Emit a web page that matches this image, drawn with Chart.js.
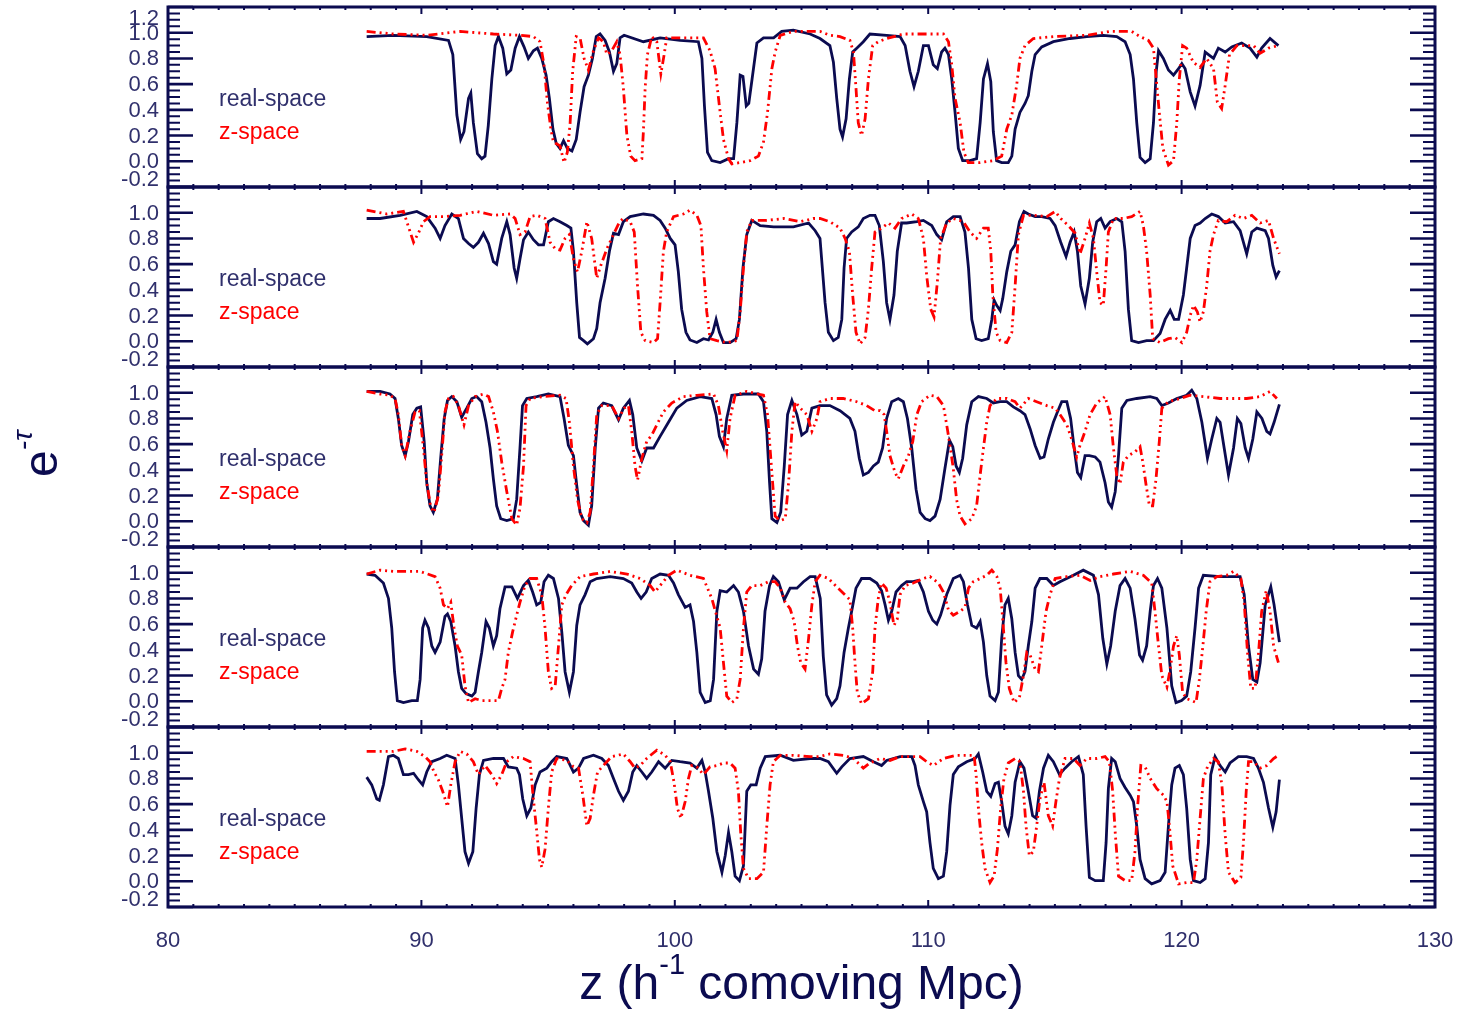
<!DOCTYPE html>
<html>
<head>
<meta charset="utf-8">
<script src="https://cdn.jsdelivr.net/npm/chart.js@4.4.1/dist/chart.umd.min.js"></script>
<style>
  html, body { margin: 0; padding: 0; background: #ffffff; }
  #chart-container { width: 1463px; height: 1011px; }
</style>
</head>
<body>
<div id="chart-container"><canvas id="spectra" width="1463" height="1011"></canvas></div>
<script>
// Axis ranges and labels
const xRange = [80, 130];
const xTickLabels = [80, 90, 100, 110, 120, 130];
const yTickValues = [0.0, 0.2, 0.4, 0.6, 0.8, 1.0];
const seriesNames = ['real-space', 'z-space'];

// Panel 1 (top)
const realSpace1 = [[87.84,0.97],[88.89,0.98],[90.21,0.97],[91.07,0.94],[91.24,0.83],[91.40,0.36],[91.55,0.17],[91.68,0.23],[91.86,0.49],[91.95,0.53],[92.05,0.30],[92.21,0.06],[92.38,0.02],[92.51,0.04],[92.64,0.28],[92.78,0.64],[92.91,0.90],[93.04,0.97],[93.21,0.88],[93.37,0.68],[93.53,0.71],[93.70,0.88],[93.87,0.97],[94.05,0.89],[94.22,0.80],[94.42,0.86],[94.58,0.88],[94.75,0.80],[94.92,0.67],[95.05,0.49],[95.19,0.25],[95.32,0.14],[95.47,0.10],[95.61,0.16],[95.76,0.10],[95.94,0.08],[96.11,0.17],[96.26,0.38],[96.42,0.58],[96.59,0.67],[96.75,0.80],[96.90,0.97],[97.05,0.99],[97.25,0.94],[97.42,0.85],[97.58,0.70],[97.71,0.76],[97.84,0.96],[98.00,0.98],[98.76,0.93],[99.42,0.96],[100.21,0.94],[100.93,0.93],[101.07,0.80],[101.17,0.43],[101.29,0.07],[101.46,0.005],[101.79,-0.01],[102.12,0.02],[102.32,0.02],[102.45,0.30],[102.58,0.67],[102.69,0.66],[102.82,0.43],[102.92,0.45],[103.05,0.64],[103.24,0.92],[103.50,0.96],[103.90,0.96],[104.22,1.01],[104.68,1.02],[105.34,0.99],[105.73,0.955],[106.12,0.90],[106.26,0.77],[106.39,0.49],[106.52,0.25],[106.62,0.19],[106.76,0.33],[106.89,0.64],[107.02,0.85],[107.18,0.88],[107.44,0.93],[107.70,0.99],[108.36,0.98],[108.89,0.97],[109.09,0.90],[109.28,0.70],[109.44,0.58],[109.61,0.70],[109.81,0.90],[110.01,0.90],[110.20,0.75],[110.36,0.72],[110.53,0.85],[110.66,0.88],[110.80,0.83],[110.93,0.64],[111.06,0.38],[111.19,0.10],[111.36,0.005],[111.65,0.005],[111.91,0.02],[112.05,0.30],[112.18,0.64],[112.34,0.76],[112.47,0.62],[112.57,0.23],[112.70,0.005],[112.90,-0.01],[113.16,-0.01],[113.30,0.04],[113.43,0.25],[113.62,0.38],[113.82,0.45],[113.95,0.51],[114.09,0.70],[114.22,0.83],[114.48,0.89],[114.94,0.93],[115.60,0.955],[116.26,0.97],[116.91,0.98],[117.44,0.97],[117.77,0.93],[117.97,0.83],[118.10,0.64],[118.23,0.30],[118.36,0.03],[118.56,-0.01],[118.76,0.02],[118.89,0.30],[119.00,0.70],[119.09,0.86],[119.28,0.80],[119.48,0.71],[119.68,0.67],[119.88,0.72],[120.01,0.76],[120.14,0.72],[120.34,0.54],[120.53,0.43],[120.73,0.59],[120.93,0.85],[121.06,0.83],[121.26,0.80],[121.45,0.88],[121.72,0.85],[121.98,0.89],[122.37,0.92],[122.70,0.88],[122.97,0.81],[123.16,0.88],[123.49,0.955],[123.82,0.90]];
const zSpace1 = [[87.84,1.01],[88.89,0.99],[90.21,0.98],[91.53,1.01],[92.84,0.99],[93.89,0.98],[94.42,0.97],[94.68,0.93],[94.84,0.75],[94.97,0.46],[95.11,0.25],[95.21,0.15],[95.47,0.12],[95.63,-0.01],[95.76,0.07],[95.87,0.30],[95.97,0.70],[96.11,0.97],[96.26,0.96],[96.42,0.80],[96.59,0.71],[96.79,0.86],[96.99,0.96],[97.18,0.93],[97.32,0.83],[97.51,0.86],[97.71,0.93],[97.84,0.83],[97.97,0.57],[98.11,0.20],[98.26,0.04],[98.43,0.005],[98.70,0.02],[98.76,0.23],[98.83,0.57],[98.92,0.83],[99.09,0.97],[99.29,0.93],[99.45,0.68],[99.58,0.83],[99.68,0.96],[100.08,0.96],[100.74,0.96],[101.13,0.96],[101.39,0.86],[101.59,0.72],[101.76,0.43],[101.92,0.17],[102.12,0.02],[102.25,-0.02],[102.58,-0.01],[102.97,0.005],[103.30,0.04],[103.50,0.15],[103.66,0.38],[103.83,0.72],[103.96,0.85],[104.16,0.98],[104.68,1.01],[105.34,1.01],[105.73,1.01],[106.12,0.98],[106.52,0.97],[106.91,0.94],[107.05,0.85],[107.15,0.57],[107.24,0.30],[107.37,0.20],[107.51,0.33],[107.64,0.64],[107.81,0.90],[108.03,0.93],[108.36,0.955],[109.02,0.99],[109.68,0.99],[110.60,0.99],[110.80,0.93],[110.93,0.75],[111.06,0.49],[111.26,0.30],[111.41,0.07],[111.58,-0.01],[112.05,-0.01],[112.57,0.005],[112.90,0.04],[113.10,0.25],[113.30,0.36],[113.49,0.59],[113.62,0.80],[113.82,0.90],[114.15,0.955],[114.94,0.97],[116.26,0.98],[117.18,1.01],[118.03,1.01],[118.36,0.97],[118.69,0.94],[118.89,0.88],[119.00,0.64],[119.12,0.38],[119.26,0.10],[119.48,-0.03],[119.68,0.005],[119.81,0.30],[119.91,0.64],[120.04,0.90],[120.20,0.88],[120.46,0.77],[120.73,0.73],[120.99,0.80],[121.26,0.72],[121.41,0.46],[121.58,0.41],[121.72,0.59],[121.89,0.83],[122.18,0.90],[122.57,0.90],[122.84,0.90],[123.10,0.84],[123.43,0.88],[123.82,0.90]];

// Panel 2
const realSpace2 = [[87.84,0.955],[88.37,0.955],[89.16,0.98],[89.82,1.01],[90.21,0.97],[90.54,0.88],[90.74,0.80],[90.93,0.90],[91.20,0.99],[91.46,0.955],[91.66,0.80],[91.86,0.76],[92.05,0.73],[92.25,0.77],[92.45,0.84],[92.65,0.76],[92.84,0.62],[92.97,0.60],[93.17,0.80],[93.37,0.93],[93.50,0.83],[93.66,0.57],[93.76,0.49],[93.89,0.64],[94.03,0.79],[94.22,0.85],[94.42,0.79],[94.62,0.75],[94.82,0.75],[95.01,0.93],[95.21,0.955],[95.47,0.93],[95.74,0.90],[95.90,0.88],[96.00,0.70],[96.13,0.30],[96.24,0.03],[96.40,0.005],[96.55,-0.02],[96.79,0.02],[96.92,0.10],[97.05,0.30],[97.25,0.49],[97.42,0.70],[97.58,0.84],[97.78,0.83],[97.97,0.93],[98.24,0.97],[98.76,0.99],[99.16,0.98],[99.42,0.94],[99.62,0.88],[99.82,0.80],[100.01,0.75],[100.14,0.54],[100.27,0.25],[100.44,0.07],[100.60,0.01],[100.87,-0.01],[101.13,0.02],[101.33,0.01],[101.50,0.07],[101.63,0.17],[101.76,0.07],[101.92,-0.01],[102.18,-0.01],[102.42,0.02],[102.55,0.17],[102.69,0.57],[102.84,0.83],[103.04,0.94],[103.37,0.90],[103.90,0.89],[104.68,0.89],[105.28,0.92],[105.54,0.86],[105.73,0.80],[105.93,0.30],[106.06,0.07],[106.26,0.005],[106.45,0.03],[106.59,0.17],[106.68,0.57],[106.78,0.80],[106.98,0.85],[107.24,0.89],[107.44,0.955],[107.70,0.98],[107.90,0.98],[108.07,0.90],[108.23,0.62],[108.36,0.30],[108.49,0.17],[108.65,0.36],[108.78,0.70],[108.95,0.92],[109.15,0.92],[109.55,0.93],[109.81,0.94],[110.14,0.90],[110.34,0.83],[110.53,0.79],[110.73,0.93],[110.99,0.97],[111.26,0.97],[111.45,0.85],[111.59,0.57],[111.72,0.17],[111.89,0.02],[112.11,0.005],[112.37,0.02],[112.51,0.17],[112.60,0.32],[112.70,0.28],[112.84,0.24],[112.94,0.33],[113.10,0.54],[113.26,0.70],[113.43,0.75],[113.60,0.93],[113.78,1.01],[113.95,0.99],[114.22,0.97],[114.48,0.97],[114.81,0.955],[115.01,0.90],[115.23,0.77],[115.44,0.66],[115.60,0.77],[115.76,0.85],[115.89,0.70],[116.02,0.43],[116.19,0.29],[116.36,0.49],[116.49,0.77],[116.65,0.93],[116.81,0.955],[116.98,0.88],[117.18,0.93],[117.44,0.955],[117.64,0.93],[117.77,0.70],[117.90,0.25],[118.03,0.005],[118.30,-0.01],[118.62,0.005],[118.89,0.005],[119.15,0.06],[119.35,0.17],[119.55,0.24],[119.71,0.17],[119.88,0.17],[120.07,0.36],[120.20,0.57],[120.34,0.80],[120.53,0.90],[120.73,0.92],[120.93,0.955],[121.19,0.99],[121.45,0.97],[121.72,0.92],[122.05,0.93],[122.31,0.86],[122.57,0.68],[122.77,0.85],[122.97,0.88],[123.30,0.86],[123.43,0.80],[123.60,0.59],[123.73,0.50],[123.86,0.55]];
const zSpace2 = [[87.84,1.02],[88.63,0.99],[89.29,1.01],[89.49,0.89],[89.69,0.77],[89.88,0.84],[90.08,0.93],[90.34,0.97],[90.87,0.97],[91.53,0.98],[92.18,1.01],[92.84,0.98],[93.50,0.99],[93.70,0.955],[93.89,0.83],[94.09,0.85],[94.29,0.97],[94.55,0.98],[94.88,0.955],[95.08,0.77],[95.28,0.72],[95.47,0.71],[95.67,0.80],[95.84,0.83],[96.00,0.64],[96.16,0.54],[96.33,0.70],[96.53,0.93],[96.72,0.80],[96.92,0.49],[97.08,0.59],[97.32,0.72],[97.58,0.83],[97.82,0.93],[97.97,0.955],[98.24,0.93],[98.40,0.85],[98.53,0.43],[98.66,0.07],[98.83,0.005],[99.16,-0.01],[99.32,0.02],[99.42,0.30],[99.55,0.70],[99.68,0.85],[99.95,0.97],[100.34,0.99],[100.60,1.02],[100.87,0.98],[101.03,0.90],[101.13,0.57],[101.26,0.23],[101.39,0.02],[101.66,0.005],[102.05,-0.01],[102.45,0.005],[102.58,0.23],[102.71,0.57],[102.84,0.85],[103.04,0.94],[103.63,0.94],[104.29,0.955],[104.95,0.93],[105.47,0.955],[105.73,0.955],[106.12,0.93],[106.52,0.88],[106.72,0.80],[106.89,0.70],[107.02,0.36],[107.15,0.07],[107.31,-0.02],[107.51,0.03],[107.64,0.25],[107.77,0.57],[107.90,0.85],[108.16,0.88],[108.43,0.92],[108.69,0.88],[108.95,0.955],[109.35,0.99],[109.61,0.955],[109.81,0.80],[109.94,0.51],[110.10,0.25],[110.23,0.19],[110.36,0.46],[110.49,0.80],[110.73,0.92],[110.99,0.955],[111.39,0.93],[111.65,0.85],[111.91,0.80],[112.18,0.88],[112.37,0.88],[112.47,0.70],[112.55,0.36],[112.68,0.07],[112.84,0.005],[113.10,-0.01],[113.30,0.07],[113.43,0.43],[113.56,0.83],[113.76,0.98],[114.15,0.98],[114.68,0.97],[115.01,1.01],[115.23,0.955],[115.53,0.90],[115.80,0.84],[115.99,0.68],[116.19,0.80],[116.36,0.92],[116.52,0.80],[116.65,0.54],[116.78,0.30],[116.91,0.28],[117.02,0.57],[117.11,0.85],[117.31,0.955],[117.70,0.955],[118.03,0.97],[118.36,1.01],[118.49,0.90],[118.62,0.70],[118.76,0.36],[118.86,0.02],[119.15,-0.01],[119.48,0.02],[119.74,0.03],[120.01,-0.01],[120.20,0.07],[120.34,0.20],[120.47,0.28],[120.62,0.23],[120.73,0.15],[120.86,0.23],[120.99,0.43],[121.12,0.70],[121.26,0.83],[121.45,0.94],[121.78,0.93],[122.11,0.98],[122.44,0.955],[122.77,0.98],[123.10,0.92],[123.43,0.94],[123.63,0.80],[123.86,0.68]];

// Panel 3
const realSpace3 = [[87.84,1.01],[88.37,1.01],[88.76,0.99],[88.96,0.955],[89.09,0.80],[89.22,0.59],[89.36,0.51],[89.49,0.62],[89.66,0.83],[89.82,0.88],[89.97,0.89],[90.11,0.62],[90.21,0.30],[90.34,0.12],[90.47,0.07],[90.63,0.17],[90.76,0.49],[90.90,0.80],[91.03,0.94],[91.20,0.97],[91.40,0.93],[91.59,0.81],[91.79,0.88],[91.99,0.955],[92.18,0.97],[92.38,0.93],[92.55,0.77],[92.71,0.57],[92.84,0.33],[92.97,0.12],[93.13,0.02],[93.37,0.005],[93.63,0.02],[93.76,0.17],[93.89,0.57],[93.99,0.90],[94.16,0.955],[94.55,0.97],[95.01,0.99],[95.47,0.97],[95.63,0.80],[95.80,0.59],[96.00,0.51],[96.13,0.28],[96.26,0.07],[96.40,0.005],[96.59,-0.03],[96.72,0.12],[96.86,0.57],[96.99,0.88],[97.18,0.92],[97.51,0.90],[97.78,0.79],[97.97,0.88],[98.21,0.94],[98.34,0.83],[98.50,0.57],[98.70,0.47],[98.89,0.57],[99.16,0.57],[99.42,0.66],[99.75,0.77],[100.08,0.88],[100.47,0.94],[101.00,0.97],[101.46,0.955],[101.63,0.83],[101.76,0.66],[101.92,0.58],[102.05,0.80],[102.25,0.98],[102.71,0.99],[103.30,0.99],[103.50,0.93],[103.63,0.70],[103.74,0.30],[103.83,0.02],[104.03,-0.01],[104.18,0.07],[104.32,0.43],[104.45,0.83],[104.62,0.94],[104.82,0.83],[105.01,0.67],[105.21,0.70],[105.41,0.88],[105.73,0.90],[106.12,0.90],[106.52,0.86],[106.91,0.80],[107.11,0.70],[107.28,0.49],[107.44,0.36],[107.64,0.38],[107.84,0.43],[108.03,0.46],[108.20,0.57],[108.36,0.80],[108.56,0.93],[108.82,0.955],[109.02,0.93],[109.18,0.80],[109.35,0.57],[109.52,0.25],[109.68,0.07],[109.88,0.02],[110.07,0.005],[110.27,0.04],[110.47,0.17],[110.66,0.41],[110.84,0.63],[110.97,0.58],[111.10,0.43],[111.23,0.38],[111.36,0.49],[111.52,0.75],[111.72,0.93],[111.98,0.97],[112.31,0.955],[112.57,0.92],[112.84,0.93],[113.10,0.93],[113.36,0.89],[113.62,0.86],[113.82,0.83],[114.02,0.72],[114.22,0.59],[114.42,0.49],[114.57,0.50],[114.74,0.64],[114.94,0.77],[115.10,0.85],[115.27,0.93],[115.47,0.93],[115.62,0.80],[115.76,0.57],[115.89,0.38],[116.02,0.34],[116.19,0.51],[116.36,0.51],[116.59,0.50],[116.78,0.46],[116.98,0.30],[117.11,0.15],[117.24,0.11],[117.38,0.23],[117.51,0.51],[117.64,0.88],[117.84,0.94],[118.23,0.955],[118.76,0.97],[119.02,0.955],[119.22,0.90],[119.48,0.92],[119.81,0.955],[120.20,0.98],[120.40,1.02],[120.60,0.955],[120.80,0.77],[121.02,0.49],[121.19,0.64],[121.39,0.80],[121.52,0.77],[121.68,0.57],[121.85,0.36],[122.05,0.57],[122.20,0.80],[122.34,0.76],[122.51,0.57],[122.64,0.49],[122.81,0.64],[122.97,0.85],[123.17,0.80],[123.36,0.70],[123.49,0.68],[123.65,0.77],[123.86,0.91]];
const zSpace3 = [[87.84,1.01],[88.37,0.99],[88.76,0.98],[88.96,0.955],[89.09,0.83],[89.22,0.59],[89.36,0.51],[89.55,0.70],[89.75,0.85],[89.92,0.86],[90.08,0.57],[90.21,0.30],[90.37,0.11],[90.50,0.07],[90.67,0.20],[90.80,0.51],[90.93,0.85],[91.07,0.955],[91.26,0.97],[91.46,0.90],[91.68,0.75],[91.86,0.90],[92.12,0.97],[92.45,0.99],[92.65,0.97],[92.84,0.85],[93.00,0.70],[93.17,0.46],[93.37,0.23],[93.57,0.02],[93.76,-0.03],[93.89,0.10],[94.03,0.43],[94.13,0.90],[94.29,0.955],[94.82,0.97],[95.47,0.98],[95.71,0.955],[95.84,0.77],[96.00,0.43],[96.16,0.17],[96.33,0.02],[96.53,-0.01],[96.66,0.07],[96.79,0.43],[96.92,0.83],[97.12,0.90],[97.51,0.90],[97.78,0.80],[98.00,0.88],[98.17,0.90],[98.30,0.70],[98.43,0.43],[98.53,0.32],[98.70,0.49],[98.89,0.62],[99.09,0.67],[99.29,0.75],[99.55,0.85],[99.88,0.92],[100.34,0.97],[100.87,0.98],[101.53,0.99],[101.72,0.90],[101.89,0.70],[102.05,0.55],[102.18,0.80],[102.38,0.98],[102.84,1.01],[103.50,0.98],[103.66,0.83],[103.83,0.38],[103.96,0.04],[104.16,0.005],[104.36,0.02],[104.49,0.30],[104.62,0.70],[104.75,0.93],[104.95,0.88],[105.21,0.83],[105.41,0.70],[105.61,0.80],[105.73,0.93],[106.12,0.955],[106.65,0.955],[107.18,0.93],[107.57,0.90],[107.90,0.86],[108.10,0.86],[108.26,0.83],[108.36,0.70],[108.49,0.51],[108.69,0.38],[108.82,0.33],[109.02,0.43],[109.22,0.51],[109.39,0.62],[109.55,0.83],[109.74,0.93],[110.07,0.98],[110.34,0.97],[110.60,0.90],[110.73,0.75],[110.86,0.59],[110.99,0.41],[111.12,0.17],[111.26,0.04],[111.45,-0.02],[111.72,0.02],[111.91,0.12],[112.05,0.36],[112.18,0.57],[112.31,0.77],[112.44,0.90],[112.71,0.955],[113.10,0.955],[113.43,0.93],[113.62,0.88],[113.95,0.955],[114.28,0.93],[114.68,0.90],[115.01,0.88],[115.20,0.83],[115.47,0.75],[115.66,0.64],[115.86,0.50],[115.99,0.59],[116.19,0.70],[116.39,0.83],[116.65,0.92],[116.98,0.97],[117.18,0.83],[117.31,0.57],[117.44,0.36],[117.57,0.29],[117.70,0.46],[117.90,0.51],[118.16,0.54],[118.36,0.58],[118.47,0.46],[118.60,0.28],[118.73,0.12],[118.86,0.12],[118.99,0.33],[119.12,0.62],[119.22,0.88],[119.48,0.93],[119.94,0.955],[120.34,0.98],[120.86,0.97],[121.52,0.955],[122.05,0.955],[122.57,0.955],[123.10,0.97],[123.49,1.01],[123.76,0.955]];

// Panel 4
const realSpace4 = [[87.84,0.99],[88.17,0.98],[88.50,0.92],[88.70,0.80],[88.83,0.57],[88.94,0.23],[89.05,0.005],[89.29,-0.01],[89.62,0.005],[89.84,0.005],[89.95,0.17],[90.05,0.57],[90.14,0.63],[90.28,0.57],[90.41,0.43],[90.54,0.38],[90.74,0.46],[90.93,0.66],[91.03,0.68],[91.16,0.62],[91.33,0.43],[91.46,0.23],[91.59,0.10],[91.76,0.06],[91.99,0.04],[92.12,0.07],[92.25,0.23],[92.38,0.38],[92.55,0.62],[92.68,0.57],[92.84,0.43],[92.97,0.51],[93.10,0.72],[93.30,0.89],[93.57,0.89],[93.79,0.80],[94.03,0.90],[94.22,0.94],[94.39,0.85],[94.55,0.75],[94.71,0.77],[94.84,0.93],[95.01,0.98],[95.21,0.955],[95.41,0.80],[95.54,0.54],[95.67,0.23],[95.84,0.07],[96.00,0.23],[96.13,0.59],[96.26,0.75],[96.46,0.83],[96.66,0.93],[96.92,0.955],[97.45,0.97],[97.97,0.955],[98.30,0.92],[98.50,0.85],[98.67,0.80],[98.87,0.85],[99.09,0.955],[99.42,0.99],[99.75,0.98],[99.95,0.92],[100.14,0.83],[100.41,0.73],[100.60,0.75],[100.74,0.62],[100.87,0.38],[101.00,0.07],[101.20,-0.01],[101.40,0.005],[101.53,0.17],[101.66,0.70],[101.79,0.86],[102.05,0.85],[102.32,0.90],[102.51,0.85],[102.71,0.70],[102.91,0.43],[103.11,0.25],[103.30,0.21],[103.43,0.33],[103.56,0.70],[103.74,0.90],[103.89,0.97],[104.09,0.93],[104.32,0.79],[104.55,0.88],[104.82,0.88],[105.08,0.93],[105.34,0.97],[105.54,0.97],[105.74,0.80],[105.86,0.35],[105.99,0.05],[106.19,-0.03],[106.39,0.02],[106.52,0.12],[106.68,0.38],[106.85,0.57],[106.98,0.70],[107.15,0.88],[107.37,0.955],[107.70,0.955],[107.97,0.92],[108.16,0.86],[108.30,0.75],[108.43,0.63],[108.56,0.70],[108.73,0.85],[108.95,0.90],[109.15,0.93],[109.41,0.93],[109.61,0.94],[109.81,0.85],[110.01,0.70],[110.18,0.63],[110.34,0.60],[110.49,0.67],[110.73,0.83],[110.99,0.955],[111.26,0.98],[111.39,0.93],[111.55,0.75],[111.72,0.59],[111.91,0.57],[112.05,0.62],[112.18,0.46],[112.31,0.20],[112.44,0.04],[112.64,0.005],[112.77,0.07],[112.90,0.49],[113.03,0.75],[113.16,0.80],[113.30,0.64],[113.43,0.38],[113.56,0.20],[113.69,0.17],[113.82,0.23],[113.95,0.43],[114.09,0.62],[114.22,0.88],[114.41,0.955],[114.68,0.955],[114.94,0.90],[115.20,0.93],[115.73,0.98],[116.12,1.02],[116.52,0.98],[116.72,0.83],[116.89,0.49],[117.05,0.29],[117.20,0.43],[117.38,0.70],[117.57,0.90],[117.77,0.955],[117.97,0.88],[118.16,0.64],[118.34,0.36],[118.46,0.32],[118.62,0.43],[118.76,0.70],[118.89,0.90],[119.05,0.955],[119.22,0.88],[119.42,0.57],[119.61,0.12],[119.78,-0.01],[120.00,0.005],[120.20,0.04],[120.36,0.23],[120.53,0.57],[120.67,0.88],[120.86,0.98],[121.52,0.97],[122.31,0.97],[122.47,0.83],[122.64,0.43],[122.81,0.17],[122.97,0.15],[123.10,0.30],[123.30,0.75],[123.52,0.89],[123.65,0.75],[123.86,0.46]];
const zSpace4 = [[87.84,0.99],[88.37,1.02],[88.89,1.01],[89.42,1.01],[89.95,1.01],[90.54,0.97],[90.74,0.88],[90.87,0.75],[91.03,0.72],[91.16,0.77],[91.29,0.57],[91.42,0.43],[91.59,0.36],[91.72,0.12],[91.86,-0.01],[92.12,0.02],[92.38,0.005],[92.71,0.005],[93.04,0.005],[93.17,0.10],[93.30,0.17],[93.43,0.38],[93.60,0.54],[93.76,0.67],[93.89,0.77],[94.09,0.90],[94.29,0.955],[94.55,0.955],[94.75,0.83],[94.88,0.57],[95.01,0.23],[95.14,0.10],[95.28,0.12],[95.41,0.43],[95.54,0.75],[95.71,0.83],[95.93,0.90],[96.26,0.97],[96.79,0.99],[97.45,1.01],[98.11,0.99],[98.63,0.955],[99.03,0.90],[99.22,0.85],[99.42,0.90],[99.75,0.98],[100.08,1.02],[100.60,0.98],[101.13,0.955],[101.46,0.80],[101.66,0.66],[101.79,0.57],[101.92,0.30],[102.05,0.04],[102.25,-0.01],[102.45,0.02],[102.58,0.17],[102.71,0.57],[102.84,0.85],[103.04,0.90],[103.37,0.90],[103.70,0.93],[103.96,0.93],[104.16,0.88],[104.36,0.77],[104.55,0.72],[104.71,0.62],[104.84,0.43],[104.97,0.30],[105.14,0.25],[105.28,0.49],[105.41,0.75],[105.54,0.93],[105.73,0.98],[106.06,0.955],[106.39,0.89],[106.65,0.84],[106.91,0.79],[107.02,0.57],[107.11,0.30],[107.20,0.07],[107.37,-0.02],[107.64,0.02],[107.81,0.23],[107.90,0.57],[108.03,0.80],[108.16,0.92],[108.34,0.88],[108.49,0.77],[108.65,0.59],[108.78,0.64],[108.89,0.83],[109.09,0.90],[109.41,0.92],[109.81,0.955],[110.07,0.97],[110.40,0.92],[110.60,0.85],[110.80,0.71],[110.99,0.67],[111.26,0.70],[111.45,0.73],[111.59,0.88],[111.78,0.93],[112.05,0.955],[112.31,0.98],[112.51,1.02],[112.71,0.97],[112.84,0.88],[112.94,0.64],[113.07,0.30],[113.20,0.10],[113.39,-0.01],[113.60,0.03],[113.76,0.20],[113.89,0.38],[114.02,0.36],[114.22,0.25],[114.35,0.23],[114.48,0.43],[114.65,0.70],[114.81,0.83],[115.01,0.955],[115.47,0.97],[115.99,0.98],[116.39,0.94],[116.78,0.97],[117.31,0.99],[117.97,1.01],[118.49,0.98],[118.82,0.92],[118.95,0.70],[119.09,0.43],[119.22,0.20],[119.42,0.11],[119.55,0.25],[119.68,0.43],[119.81,0.51],[119.91,0.36],[120.04,0.07],[120.20,0.02],[120.40,0.005],[120.57,-0.01],[120.70,0.17],[120.84,0.43],[120.97,0.70],[121.12,0.93],[121.39,0.97],[121.78,0.98],[122.05,1.01],[122.34,0.955],[122.47,0.77],[122.60,0.38],[122.73,0.10],[122.90,0.10],[123.03,0.36],[123.16,0.70],[123.34,0.86],[123.49,0.70],[123.63,0.43],[123.82,0.30]];

// Panel 5 (bottom)
const realSpace5 = [[87.84,0.81],[88.04,0.75],[88.24,0.64],[88.34,0.63],[88.50,0.75],[88.70,0.97],[88.89,0.98],[89.09,0.955],[89.29,0.83],[89.49,0.83],[89.69,0.84],[89.88,0.79],[90.05,0.75],[90.21,0.85],[90.41,0.93],[90.74,0.955],[91.00,0.98],[91.33,0.955],[91.46,0.75],[91.59,0.49],[91.72,0.23],[91.86,0.14],[92.03,0.23],[92.16,0.57],[92.29,0.83],[92.45,0.94],[92.84,0.955],[93.24,0.955],[93.43,0.89],[93.76,0.88],[93.87,0.83],[94.00,0.64],[94.16,0.51],[94.32,0.57],[94.49,0.75],[94.68,0.85],[94.95,0.88],[95.14,0.93],[95.34,0.97],[95.74,0.955],[96.00,0.85],[96.20,0.88],[96.40,0.955],[96.79,0.98],[97.12,0.955],[97.38,0.90],[97.58,0.80],[97.78,0.70],[97.97,0.63],[98.17,0.70],[98.34,0.85],[98.50,0.90],[98.70,0.85],[98.89,0.80],[99.09,0.85],[99.36,0.93],[99.62,0.88],[99.88,0.94],[100.21,0.93],[100.60,0.92],[100.87,0.88],[101.07,0.94],[101.20,0.85],[101.33,0.70],[101.50,0.49],[101.66,0.23],[101.86,0.07],[101.99,0.20],[102.12,0.38],[102.25,0.23],[102.38,0.04],[102.55,0.005],[102.71,0.12],[102.84,0.70],[103.00,0.75],[103.21,0.75],[103.37,0.88],[103.57,0.97],[104.16,0.98],[104.68,0.94],[105.34,0.955],[105.73,0.955],[106.06,0.93],[106.39,0.84],[106.59,0.89],[106.91,0.955],[107.44,0.97],[107.84,0.93],[108.16,0.90],[108.36,0.94],[108.89,0.97],[109.35,0.97],[109.48,0.90],[109.61,0.75],[109.81,0.62],[109.94,0.54],[110.07,0.30],[110.20,0.10],[110.40,0.02],[110.60,0.04],[110.73,0.23],[110.86,0.59],[110.99,0.83],[111.19,0.89],[111.52,0.93],[111.85,0.955],[111.98,0.99],[112.15,0.85],[112.31,0.70],[112.47,0.66],[112.64,0.76],[112.77,0.77],[112.90,0.62],[113.03,0.43],[113.16,0.37],[113.30,0.51],[113.43,0.77],[113.62,0.93],[113.78,0.88],[113.95,0.70],[114.12,0.51],[114.26,0.49],[114.39,0.70],[114.55,0.88],[114.74,0.98],[114.94,0.93],[115.18,0.83],[115.40,0.88],[115.66,0.93],[115.93,0.97],[116.12,0.83],[116.23,0.43],[116.36,0.03],[116.59,0.005],[116.91,0.005],[117.02,0.30],[117.11,0.72],[117.24,0.955],[117.38,0.93],[117.57,0.80],[117.77,0.73],[117.97,0.67],[118.10,0.62],[118.23,0.43],[118.36,0.17],[118.56,0.02],[118.82,-0.02],[119.15,0.005],[119.35,0.07],[119.48,0.43],[119.61,0.75],[119.74,0.88],[119.91,0.90],[120.07,0.83],[120.20,0.57],[120.34,0.17],[120.47,0.005],[120.73,-0.01],[120.93,0.02],[121.06,0.30],[121.15,0.83],[121.32,0.97],[121.52,0.90],[121.72,0.85],[121.91,0.92],[122.24,0.97],[122.57,0.97],[122.84,0.955],[123.03,0.88],[123.23,0.77],[123.43,0.57],[123.60,0.42],[123.73,0.54],[123.86,0.79]];
const zSpace5 = [[87.84,1.01],[88.37,1.01],[88.89,1.01],[89.36,1.03],[89.82,1.01],[90.14,0.97],[90.34,0.93],[90.50,0.85],[90.67,0.79],[90.84,0.70],[91.03,0.58],[91.16,0.75],[91.33,0.93],[91.53,1.01],[91.79,0.99],[92.05,0.93],[92.25,0.83],[92.51,0.90],[92.78,0.83],[92.97,0.76],[93.17,0.83],[93.37,0.93],[93.63,0.97],[94.03,0.955],[94.29,0.93],[94.39,0.70],[94.53,0.43],[94.66,0.17],[94.75,0.11],[94.88,0.25],[95.01,0.57],[95.14,0.85],[95.34,0.955],[95.74,0.94],[96.00,0.89],[96.20,0.88],[96.37,0.67],[96.53,0.43],[96.66,0.49],[96.79,0.67],[96.95,0.85],[97.18,0.90],[97.51,0.97],[97.97,0.99],[98.24,0.93],[98.43,0.88],[98.63,0.90],[98.89,0.955],[99.29,1.02],[99.62,0.98],[99.82,0.93],[99.97,0.77],[100.10,0.57],[100.24,0.49],[100.41,0.62],[100.54,0.80],[100.67,0.90],[100.87,0.89],[101.13,0.83],[101.39,0.89],[101.66,0.90],[101.92,0.92],[102.18,0.92],[102.38,0.88],[102.51,0.70],[102.60,0.38],[102.71,0.10],[102.91,0.02],[103.24,0.02],[103.50,0.07],[103.63,0.43],[103.76,0.75],[103.89,0.93],[104.16,0.98],[104.68,0.98],[105.34,0.97],[105.73,0.97],[106.12,0.99],[106.65,0.98],[107.05,0.955],[107.44,0.88],[107.70,0.92],[108.10,0.955],[108.49,0.94],[108.89,0.97],[109.28,0.97],[109.68,0.97],[109.94,0.93],[110.20,0.90],[110.60,0.955],[111.12,0.98],[111.52,0.98],[111.81,0.98],[111.89,0.83],[111.98,0.57],[112.11,0.30],[112.24,0.10],[112.44,-0.01],[112.60,0.04],[112.73,0.25],[112.86,0.57],[112.99,0.80],[113.16,0.92],[113.43,0.955],[113.62,0.93],[113.76,0.70],[113.86,0.43],[113.99,0.20],[114.15,0.23],[114.28,0.43],[114.41,0.64],[114.57,0.77],[114.74,0.51],[114.91,0.43],[115.04,0.62],[115.18,0.80],[115.40,0.955],[115.73,0.955],[115.99,0.90],[116.26,0.955],[116.65,0.955],[116.98,0.97],[117.15,0.93],[117.28,0.70],[117.38,0.38],[117.51,0.04],[117.77,0.005],[118.03,0.005],[118.16,0.23],[118.26,0.57],[118.39,0.90],[118.56,0.89],[118.76,0.80],[119.02,0.72],[119.28,0.67],[119.42,0.62],[119.52,0.43],[119.65,0.12],[119.88,-0.02],[120.20,-0.01],[120.47,-0.01],[120.60,0.17],[120.73,0.49],[120.86,0.80],[121.02,0.89],[121.26,0.955],[121.45,0.93],[121.59,0.75],[121.72,0.36],[121.85,0.07],[122.11,-0.01],[122.34,0.03],[122.44,0.30],[122.55,0.70],[122.64,0.93],[122.84,0.93],[123.10,0.88],[123.36,0.90],[123.63,0.955],[123.82,0.98]];

class SpectraFigure {
    constructor(config) {
        this.canvasId = config.canvasId;
        this.panels = config.panels;
        this.yMin = -0.2;
        this.yMax = 1.2;
        this.navy = '#0b0b50';
        this.red = '#ff0000';
        this.tickText = '#30306c';
        this.font = '"Liberation Sans", Arial, Helvetica, sans-serif';
    }

    // Method to build the scales: one y axis per panel. Every axis covers the
    // whole plot height, its range is shifted so the panel sits in its own band
    buildScales() {
        const span = this.yMax - this.yMin;
        const n = this.panels.length;
        const scales = {
            x: { type: 'linear', min: xRange[0], max: xRange[1], display: false }
        };
        this.panels.forEach((panel, i) => {
            scales['y' + i] = {
                type: 'linear',
                display: false,
                min: this.yMin - (n - 1 - i) * span,
                max: this.yMax + i * span
            };
        });
        return scales;
    }

    // Method to turn the panel arrays into Chart.js datasets
    buildDatasets() {
        const sets = [];
        this.panels.forEach((panel, i) => {
            sets.push({
                label: seriesNames[0],
                data: panel.real,
                yAxisID: 'y' + i,
                borderColor: this.navy,
                borderWidth: 2.8,
                pointRadius: 0,
                tension: 0,
                fill: false,
                order: 1
            });
            sets.push({
                label: seriesNames[1],
                data: panel.z,
                yAxisID: 'y' + i,
                borderColor: this.red,
                borderWidth: 2.8,
                borderDash: [9, 4, 2, 4, 2, 4, 2, 4],
                pointRadius: 0,
                tension: 0,
                fill: false,
                order: 0
            });
        });
        return sets;
    }

    // Method returning the plugin that draws frames, inward ticks and all text
    framePlugin() {
        const fig = this;
        return {
            id: 'panelFrame',
            afterDatasetsDraw(chart) {
                const ctx = chart.ctx;
                const area = chart.chartArea;
                const xs = chart.scales.x;
                ctx.save();
                ctx.strokeStyle = fig.navy;
                ctx.lineCap = 'butt';

                fig.panels.forEach((panel, i) => {
                    const ys = chart.scales['y' + i];
                    const top = ys.getPixelForValue(fig.yMax);
                    const bottom = ys.getPixelForValue(fig.yMin);

                    // y ticks every 0.05, long ones every 0.2, on both sides
                    for (let k = 0; k <= 28; k++) {
                        const y = ys.getPixelForValue(fig.yMin + k * 0.05);
                        const major = k % 4 === 0;
                        const len = major ? 25 : 12;
                        ctx.lineWidth = major ? 2.6 : 2;
                        ctx.beginPath();
                        ctx.moveTo(area.left, y);
                        ctx.lineTo(area.left + len, y);
                        ctx.moveTo(area.right, y);
                        ctx.lineTo(area.right - len, y);
                        ctx.stroke();
                    }

                    // x ticks every unit on top and bottom edge of the panel
                    for (let v = xRange[0]; v <= xRange[1]; v++) {
                        const x = xs.getPixelForValue(v);
                        const len = v % 10 === 0 ? 7 : 3;
                        ctx.lineWidth = 2;
                        ctx.beginPath();
                        ctx.moveTo(x, top);
                        ctx.lineTo(x, top + len);
                        ctx.moveTo(x, bottom);
                        ctx.lineTo(x, bottom - len);
                        ctx.stroke();
                    }

                    // panel box
                    ctx.lineWidth = 3;
                    ctx.strokeRect(area.left, top, area.right - area.left, bottom - top);

                    // y tick labels
                    ctx.fillStyle = fig.tickText;
                    ctx.font = '22px ' + fig.font;
                    ctx.textAlign = 'right';
                    ctx.textBaseline = 'middle';
                    yTickValues.forEach(v => {
                        ctx.fillText(v.toFixed(1), area.left - 9, ys.getPixelForValue(v) + 1);
                    });
                    ctx.fillText('-0.2', area.left - 9, ys.getPixelForValue(0) + 19);
                    if (i === 0) {
                        ctx.fillText('1.2', area.left - 9, ys.getPixelForValue(1.0) - 14);
                    }

                    // legend text inside the panel
                    ctx.textAlign = 'left';
                    ctx.font = '23px ' + fig.font;
                    ctx.fillStyle = fig.tickText;
                    ctx.fillText(seriesNames[0], 219, top + 93);
                    ctx.fillStyle = fig.red;
                    ctx.fillText(seriesNames[1], 219, top + 126);
                });

                // x tick labels
                ctx.fillStyle = fig.tickText;
                ctx.font = '22px ' + fig.font;
                ctx.textAlign = 'center';
                ctx.textBaseline = 'middle';
                xTickLabels.forEach(v => ctx.fillText(String(v), xs.getPixelForValue(v), 941));

                fig.drawXTitle(ctx, area);
                fig.drawYTitle(ctx);
                ctx.restore();
            }
        };
    }

    // Method to draw "z (h^-1 comoving Mpc)" with a raised exponent
    drawXTitle(ctx, area) {
        const big = '48px ' + this.font;
        const small = '29px ' + this.font;
        const parts = [['z (h', big, 0], ['-1', small, -25], [' comoving Mpc)', big, 0]];
        ctx.fillStyle = this.navy;
        ctx.textAlign = 'left';
        ctx.textBaseline = 'alphabetic';
        let total = 0;
        parts.forEach(([t, f]) => { ctx.font = f; total += ctx.measureText(t).width; });
        let x = (area.left + area.right) / 2 - total / 2;
        parts.forEach(([t, f, dy]) => {
            ctx.font = f;
            ctx.fillText(t, x, 999 + dy);
            x += ctx.measureText(t).width;
        });
    }

    // Method to draw the rotated y title e^-tau
    drawYTitle(ctx) {
        ctx.save();
        ctx.fillStyle = this.navy;
        ctx.textAlign = 'left';
        ctx.textBaseline = 'alphabetic';
        ctx.translate(57, 477);
        ctx.rotate(-Math.PI / 2);
        ctx.font = '48px ' + this.font;
        ctx.fillText('e', 0, 0);
        const w = ctx.measureText('e').width;
        ctx.font = 'italic 28px ' + this.font;
        ctx.fillText('-\u03c4', w, -25);
        ctx.restore();
    }

    // Method to create the chart
    render() {
        const ctx = document.getElementById(this.canvasId).getContext('2d');
        new Chart(ctx, {
            type: 'line',
            data: { datasets: this.buildDatasets() },
            options: {
                responsive: false,
                animation: false,
                devicePixelRatio: 1,
                events: [],
                layout: { padding: { left: 168, right: 28, top: 7, bottom: 104 } },
                scales: this.buildScales(),
                plugins: {
                    legend: { display: false },
                    tooltip: { enabled: false }
                }
            },
            plugins: [this.framePlugin()]
        });
    }
}

const figure = new SpectraFigure({
    canvasId: 'spectra',
    panels: [
        { real: realSpace1, z: zSpace1 },
        { real: realSpace2, z: zSpace2 },
        { real: realSpace3, z: zSpace3 },
        { real: realSpace4, z: zSpace4 },
        { real: realSpace5, z: zSpace5 }
    ]
});
figure.render();
</script>
</body>
</html>
